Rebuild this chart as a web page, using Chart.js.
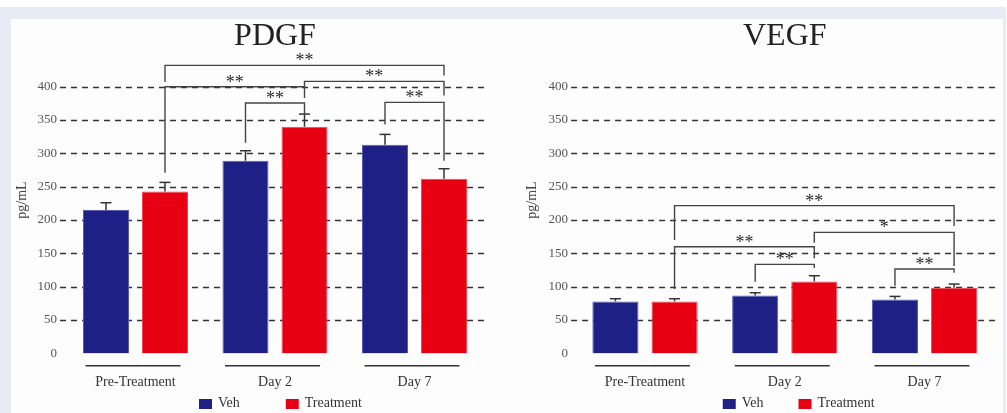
<!DOCTYPE html>
<html><head><meta charset="utf-8">
<script src="https://cdn.jsdelivr.net/npm/chart.js@4.4.1/dist/chart.umd.min.js"></script>
<style>
html,body{margin:0;padding:0;background:#fff;width:1007px;height:413px;overflow:hidden}
#frame{position:absolute;left:0;top:7px;width:1006px;height:406px;background:#e6ebf5}
#panel{position:absolute;left:11px;top:19px;width:992px;height:394px;background:#fdfdfd}
canvas{position:absolute;top:0}
#c1{left:0}
#c2{left:500px}
</style></head><body>
<div id="frame"></div><div id="panel"></div>
<canvas id="c1" width="500" height="413"></canvas>
<canvas id="c2" width="507" height="413"></canvas>
<script>
// ---------- data ----------
const categories = ['Pre-Treatment', 'Day 2', 'Day 7'];
const seriesNames = ['Veh', 'Treatment'];
const yTickValues = [0, 50, 100, 150, 200, 250, 300, 350, 400];

const pdgfVeh = [215, 289, 313];
const pdgfTrt = [243, 340, 262];
const pdgfVehErr = [11, 15, 15.5];
const pdgfTrtErr = [13.5, 19, 15];

const vegfVeh = [78, 87, 81];
const vegfTrt = [78, 108, 98.5];
const vegfVehErr = [4, 4, 4.5];
const vegfTrtErr = [4, 8.5, 5.5];

// significance brackets: a/b = [category index, series index]; y = bar level, l/r = leg ends (data units)
const pdgfSig = [
  {a: [0, 1], b: [2, 1], y: 432, l: 407, r: 417, t: '**'},
  {a: [0, 1], b: [1, 1], y: 400, l: 271, r: 383, t: '**'},
  {a: [1, 1], b: [2, 1], y: 408, l: 400, r: 387, t: '**'},
  {a: [1, 0], b: [1, 1], y: 375.5, l: 316, r: 359, t: '**'},
  {a: [2, 0], b: [2, 1], y: 376.5, l: 343.5, r: 289, t: '**'}
];
const vegfSig = [
  {a: [0, 1], b: [2, 1], y: 221.6, l: 170, r: 191, t: '**'},
  {a: [1, 1], b: [2, 1], y: 181.6, l: 166, r: 131, t: '*'},
  {a: [0, 1], b: [1, 1], y: 160, l: 96.6, r: 142.6, t: '**'},
  {a: [1, 0], b: [1, 1], y: 133.6, l: 107.6, r: 128, t: '**'},
  {a: [2, 0], b: [2, 1], y: 126.6, l: 101.6, r: 121, t: '**'}
];

// ---------- styling ----------
const FONT = "'Liberation Serif', 'DejaVu Serif', serif";
const NAVY = '#1e2085';
const RED = '#e60012';
Chart.defaults.font.family = FONT;

const decor = {
  id: 'decor',
  beforeDatasetsDraw(chart, args, o) {
    const {ctx, chartArea: ca, scales: {y}} = chart;
    ctx.save();
    ctx.strokeStyle = '#333';
    ctx.lineWidth = 1.3;
    ctx.setLineDash([6, 5]);
    y.ticks.forEach(t => {
      if (t.value === 0) return;
      const py = Math.round(y.getPixelForValue(t.value)) + 0.5;
      ctx.beginPath();
      ctx.moveTo(ca.left - o.gridExt[0], py);
      ctx.lineTo(ca.right + o.gridExt[1], py);
      ctx.stroke();
    });
    ctx.restore();
  },
  afterDraw(chart, args, o) {
    const {ctx, chartArea: ca, scales: {x, y}} = chart;
    const pt = (g, s) => chart.getDatasetMeta(s).data[g];
    const seg = (x1, y1, x2, y2) => { ctx.beginPath(); ctx.moveTo(x1, y1); ctx.lineTo(x2, y2); ctx.stroke(); };
    ctx.save();
    // error bars
    ctx.strokeStyle = '#333';
    ctx.lineWidth = 1.5;
    chart.data.datasets.forEach((ds, s) => {
      ds.errors.forEach((e, g) => {
        const bx = pt(g, s).x;
        const top = y.getPixelForValue(ds.data[g]);
        const ey = y.getPixelForValue(ds.data[g] + e);
        seg(bx, top, bx, ey);
        seg(bx - 5.5, ey, bx + 5.5, ey);
      });
    });
    // brackets
    ctx.strokeStyle = '#444';
    ctx.lineWidth = 1.4;
    ctx.fillStyle = '#2a2a2a';
    ctx.font = `18px ${FONT}`;
    ctx.textAlign = 'center';
    ctx.textBaseline = 'alphabetic';
    o.sig.forEach(b => {
      const x1 = pt(b.a[0], b.a[1]).x, x2 = pt(b.b[0], b.b[1]).x;
      const yl = y.getPixelForValue(b.y);
      ctx.beginPath();
      ctx.moveTo(x1, y.getPixelForValue(b.l));
      ctx.lineTo(x1, yl);
      ctx.lineTo(x2, yl);
      ctx.lineTo(x2, y.getPixelForValue(b.r));
      ctx.stroke();
      ctx.fillText(b.t, (x1 + x2) / 2, yl + 1);
    });
    // group underlines
    ctx.strokeStyle = '#333';
    ctx.lineWidth = 1.5;
    const uy = ca.bottom + 12.3;
    categories.forEach((c, i) => {
      const cx = x.getPixelForValue(i);
      seg(cx - 50, uy, cx + 45, uy);
    });
    // legend
    ctx.font = `14px ${FONT}`;
    ctx.textAlign = 'left';
    ctx.textBaseline = 'middle';
    let lx = (ca.left + ca.right) / 2 + o.legend.start;
    const ly = o.legend.y;
    chart.data.datasets.forEach(ds => {
      ctx.fillStyle = ds.backgroundColor;
      ctx.fillRect(lx, ly - 5, 13, 10);
      ctx.fillStyle = '#333';
      ctx.fillText(ds.label, lx + 19, ly - 1);
      lx += 19 + ctx.measureText(ds.label).width + o.legend.gap;
    });
    ctx.restore();
  }
};

function makeChart(id, title, veh, trt, vehErr, trtErr, sig, cfg) {
  return new Chart(document.getElementById(id), {
    type: 'bar',
    data: {
      labels: categories,
      datasets: [
        {label: seriesNames[0], data: veh, errors: vehErr, backgroundColor: NAVY, borderColor: '#5a5cb0', borderWidth: 1},
        {label: seriesNames[1], data: trt, errors: trtErr, backgroundColor: RED, borderColor: '#f04a55', borderWidth: 1}
      ]
    },
    options: {
      responsive: false,
      animation: false,
      events: [],
      categoryPercentage: 0.846,
      barPercentage: 0.78,
      layout: {padding: {top: 25.6, right: cfg.padRight, left: 0, bottom: 0}},
      plugins: {
        legend: {display: false},
        tooltip: {enabled: false},
        title: {display: true, text: title, fullSize: false, color: '#222', padding: 0,
                font: {family: FONT, size: 32, weight: 'normal', lineHeight: 0.66}},
        decor: {sig: sig, gridExt: cfg.gridExt, legend: cfg.legend}
      },
      scales: {
        x: {
          grid: {display: false},
          border: {display: false},
          ticks: {padding: 13, color: '#333', font: {family: FONT, size: 14}},
          afterFit: s => { s.height = 59.6; }
        },
        y: {
          min: 0, max: 460,
          afterBuildTicks: s => { s.ticks = yTickValues.map(v => ({value: v})); },
          grid: {display: false, drawTicks: false},
          border: {display: false},
          ticks: {padding: cfg.tickPad, color: '#555', font: {family: FONT, size: 13}},
          title: {display: true, text: 'pg/mL', color: '#444', font: {family: FONT, size: 14},
                  padding: {top: cfg.titlePad, bottom: 0}},
          afterFit: s => { s.width = cfg.axisW; }
        }
      }
    },
    plugins: [decor]
  });
}

makeChart('c1', 'PDGF', pdgfVeh, pdgfTrt, pdgfVehErr, pdgfTrtErr, pdgfSig,
  {padRight: 15.75, axisW: 65.75, tickPad: 8.75, titlePad: 14, gridExt: [5.75, 2.75], legend: {start: -76, gap: 46, y: 404}});
makeChart('c2', 'VEGF', vegfVeh, vegfTrt, vegfVehErr, vegfTrtErr, vegfSig,
  {padRight: 12.6, axisW: 75.1, tickPad: 7, titlePad: 24, gridExt: [4, 4.6], legend: {start: -62, gap: 35, y: 404}});
</script>
</body></html>
